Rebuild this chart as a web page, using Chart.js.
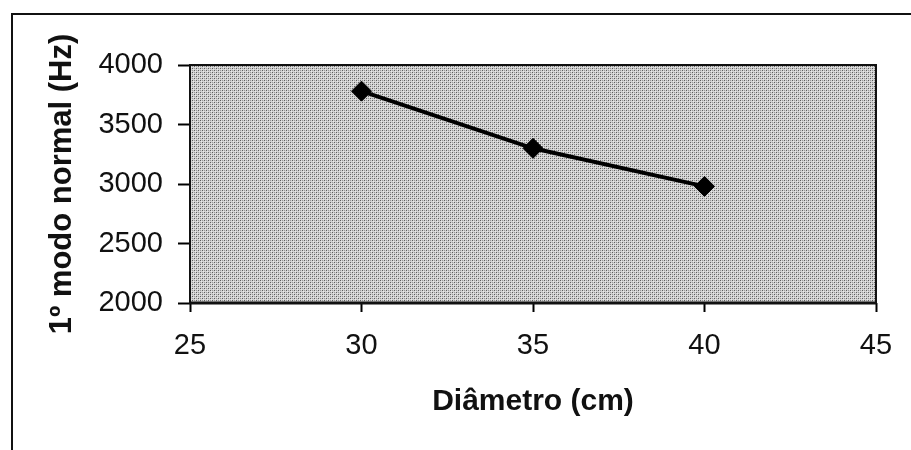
<!DOCTYPE html>
<html>
<head>
<meta charset="utf-8">
<script src="https://cdn.jsdelivr.net/npm/chart.js@4/dist/chart.umd.min.js"></script>
<style>
  html, body { margin: 0; padding: 0; background: #fff; overflow: hidden; }
  #wrap { width: 911px; height: 450px; position: relative; }
  #frame { position: absolute; left: 11px; top: 13px; width: 900px; height: 437px;
           border-left: 2px solid #111; border-top: 2px solid #111; }
  canvas { position: absolute; left: 0; top: 0; }
</style>
</head>
<body>
<div id="wrap">
  <div id="frame"></div>
  <canvas id="chart" width="911" height="450"></canvas>
</div>
<script>
const diameters = [30, 35, 40];
const frequencies = [3780, 3300, 2980];
const xTicks = [25, 30, 35, 40, 45];
const yTicks = [2000, 2500, 3000, 3500, 4000];

// stippled grey fill like the scanned plot area
function makePattern() {
  const c = document.createElement("canvas");
  c.width = 4; c.height = 4;
  const g = c.getContext("2d");
  g.fillStyle = "#d2d2d2";
  g.fillRect(0, 0, 4, 4);
  g.fillStyle = "#5e5e5e";
  g.fillRect(0, 0, 1, 1);
  g.fillRect(2, 2, 1, 1);
  g.fillStyle = "#9a9a9a";
  g.fillRect(2, 0, 1, 1);
  g.fillRect(0, 2, 1, 1);
  g.fillStyle = "#e8e8e8";
  g.fillRect(1, 1, 1, 1);
  g.fillRect(3, 3, 1, 1);
  return g.createPattern(c, "repeat");
}

const plotArea = {
  id: "plotArea",
  beforeDraw(chart) {
    const { ctx, chartArea: a } = chart;
    ctx.save();
    ctx.fillStyle = makePattern();
    ctx.fillRect(a.left, a.top, a.right - a.left, a.bottom - a.top);
    ctx.restore();
  },
  afterDatasetsDraw(chart) {
    const { ctx, chartArea: a } = chart;
    ctx.save();
    ctx.strokeStyle = "#111";
    ctx.lineWidth = 2;
    ctx.strokeRect(a.left, a.top, a.right - a.left, a.bottom - a.top);
    ctx.beginPath();
    ctx.lineWidth = 3;
    ctx.moveTo(a.left, a.bottom);
    ctx.lineTo(a.right, a.bottom);
    ctx.stroke();
    ctx.restore();
  }
};

const font = "Liberation Sans, Arial, sans-serif";

const ctx = document.getElementById("chart").getContext("2d");
new Chart(ctx, {
  type: "line",
  data: {
    datasets: [{
      data: diameters.map((d, i) => ({ x: d, y: frequencies[i] })),
      borderColor: "#000",
      backgroundColor: "#000",
      borderWidth: 4,
      pointStyle: "rectRot",
      pointRadius: 10,
      pointHoverRadius: 10,
      pointBorderWidth: 1,
      tension: 0
    }]
  },
  options: {
    responsive: false,
    animation: false,
    plugins: { legend: { display: false }, tooltip: { enabled: false } },
    layout: { padding: { left: 40, right: 35, top: 65, bottom: 20 } },
    scales: {
      x: {
        type: "linear",
        min: 25, max: 45,
        afterBuildTicks: s => { s.ticks = xTicks.map(v => ({ value: v })); },
        afterFit: s => { s.height = 127; },
        grid: { drawOnChartArea: false, color: "#000", tickLength: 9, tickWidth: 2 },
        border: { display: false },
        ticks: { color: "#111", font: { family: font, size: 29 }, padding: 17, maxRotation: 0,
                 callback: v => String(v) },
        title: { display: true, text: "Diâmetro (cm)", color: "#111",
                 font: { family: font, size: 30, weight: "bold" }, padding: { top: 0, bottom: 10 } }
      },
      y: {
        min: 2000, max: 4000,
        afterBuildTicks: s => { s.ticks = yTicks.map(v => ({ value: v })); },
        afterFit: s => { s.width = 150; },
        grid: { drawOnChartArea: false, color: "#000", tickLength: 12, tickWidth: 2 },
        border: { display: false },
        ticks: { color: "#111", font: { family: font, size: 29 }, padding: 15,
                 callback: v => String(v) },
        title: { display: true, text: "1º modo normal (Hz)", color: "#111",
                 font: { family: font, size: 31, weight: "bold" }, padding: { top: 4, bottom: 0 } }
      }
    }
  },
  plugins: [plotArea]
});
</script>
</body>
</html>
